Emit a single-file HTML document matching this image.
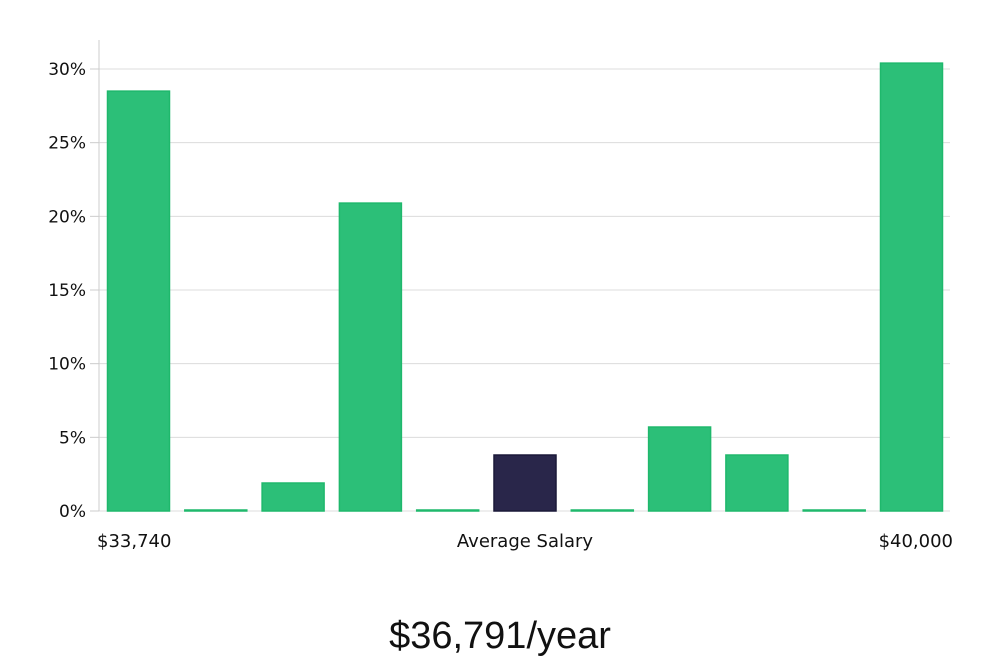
<!DOCTYPE html>
<html><head><meta charset="utf-8"><style>
body{margin:0;background:#fff;width:1000px;height:660px;overflow:hidden}
svg text{font-family:"DejaVu Sans","Liberation Sans",sans-serif;fill:#111}
</style></head><body>
<svg id="chart" width="1000" height="660"></svg>
<script>
const categories=["b1","b2","b3","b4","b5","b6","b7","b8","b9","b10","b11"];
const values=[28.5,0,1.9,20.9,0,3.8,0,5.7,3.8,0,30.4];
const highlight=[false,false,false,false,false,true,false,false,false,false,false];
const yTicks=[0,5,10,15,20,25,30];
const yTickLabels=["0%","5%","10%","15%","20%","25%","30%"];
const NS="http://www.w3.org/2000/svg";
const svg=document.getElementById('chart');
const x0=99,x1=950,yBase=511,pxPer=14.733;
const y=v=>yBase-v*pxPer;
const step=77.3,bw=62,first=107.5;
const bx=i=>first+i*step;
function mk(t,a,p){const e=document.createElementNS(NS,t);for(const k in a)e.setAttribute(k,a[k]);(p||svg).appendChild(e);return e;}
yTicks.forEach((t,i)=>{
  const g=mk('line',{x1:x0,x2:x1,y1:y(t),y2:y(t),stroke:'#dcdcdc','stroke-width':1});
  
  
  const tk=mk('line',{x1:90,x2:x0,y1:y(t),y2:y(t),stroke:'#ccc','stroke-width':1});
  
  
  const l=mk('text',{x:86,y:y(t)+6,'text-anchor':'end','font-size':17});
  l.textContent=yTickLabels[i];
  
  
});
const ax=mk('line',{x1:x0,x2:x0,y1:40,y2:yBase,stroke:'#ccc','stroke-width':1});


values.forEach((v,i)=>{
  const h=Math.max(v*pxPer,1);
  const r=mk('rect',{x:bx(i),y:yBase-h,width:bw,height:h,fill:highlight[i]?'#29264a':'#2cbf78',stroke:highlight[i]?'#1a1838':'#1fb86c','stroke-width':1.5});
  
  
});
[[97,'start','$33,740','x-min-label'],[525,'middle','Average Salary','x-axis-title'],[953,'end','$40,000','x-max-label']].forEach(a=>{
  const t=mk('text',{x:a[0],y:547,'text-anchor':a[1],'font-size':18});
  t.textContent=a[2];
  
  
});
const s=mk('text',{x:500,y:648,'text-anchor':'middle','font-size':38,style:'font-family:"Liberation Sans",sans-serif;font-weight:300'});
s.textContent='$36,791/year';


</script>
</body></html>
